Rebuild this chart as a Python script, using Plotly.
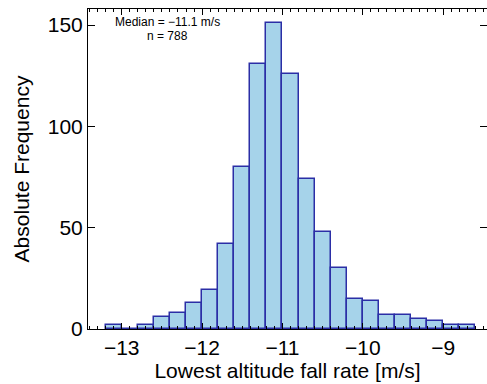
import plotly.graph_objects as go

# Histogram of lowest-altitude fall rates, 0.2 m/s bins
bin_left = [-13.2, -13.0, -12.8, -12.6, -12.4, -12.2, -12.0, -11.8, -11.6, -11.4,
            -11.2, -11.0, -10.8, -10.6, -10.4, -10.2, -10.0, -9.8, -9.6, -9.4,
            -9.2, -9.0, -8.8]
counts = [2, 0, 2, 6, 8, 13, 19, 42, 80, 131,
          151, 126, 74, 48, 30, 15, 14, 7, 7, 5,
          4, 2, 2]
bin_width = 0.2
x_ticks = [-13, -12, -11, -10, -9]
y_ticks = [0, 50, 100, 150]
median_label = "Median = \u221211.1 m/s"
n_label = "n = 788"

centers = [b + bin_width / 2 for b in bin_left]

FONT = "Liberation Sans, Arial, Helvetica, sans-serif"

fig = go.Figure(
    go.Bar(
        x=centers,
        y=counts,
        width=bin_width,
        marker=dict(color="#a6d3ea", line=dict(color="#2b2ea6", width=1.5)),
    )
)

axis_common = dict(
    showgrid=False,
    zeroline=False,
    showline=True,
    linecolor="black",
    linewidth=1,
    mirror="allticks",
    ticks="inside",
    tickcolor="black",
    tickwidth=1,
    tickfont=dict(family=FONT, size=21, color="black"),
)

fig.update_xaxes(
    **axis_common,
    range=[-13.419, -8.456],
    tickvals=x_ticks,
    ticklen=6,
    minor=dict(dtick=0.1, tick0=-13, ticks="inside", ticklen=3, tickcolor="black"),
    title=dict(text="Lowest altitude fall rate [m/s]",
               font=dict(family=FONT, size=21, color="black"), standoff=3),
)
fig.update_yaxes(
    **axis_common,
    range=[0, 157.9],
    tickvals=y_ticks,
    ticklen=7,
    title=dict(text="Absolute Frequency",
               font=dict(family=FONT, size=21, color="black"), standoff=12),
)

# Two-line statistics label near the top-left corner of the plot area
plot_l, plot_t, plot_w, plot_h = 88, 9, 399, 320
for txt, ypix in [(median_label, 22), (n_label, 36)]:
    fig.add_annotation(
        x=(167.5 - plot_l) / plot_w,
        y=1 - (ypix - plot_t) / plot_h,
        xref="paper", yref="paper",
        text=txt, showarrow=False,
        xanchor="center", yanchor="middle",
        font=dict(family=FONT, size=12, color="black"),
    )

fig.update_layout(
    width=487,
    height=384,
    margin=dict(l=plot_l, r=0, t=plot_t, b=384 - plot_t - plot_h),
    paper_bgcolor="white",
    plot_bgcolor="white",
    bargap=0,
    showlegend=False,
)

fig.write_html("out.html")
